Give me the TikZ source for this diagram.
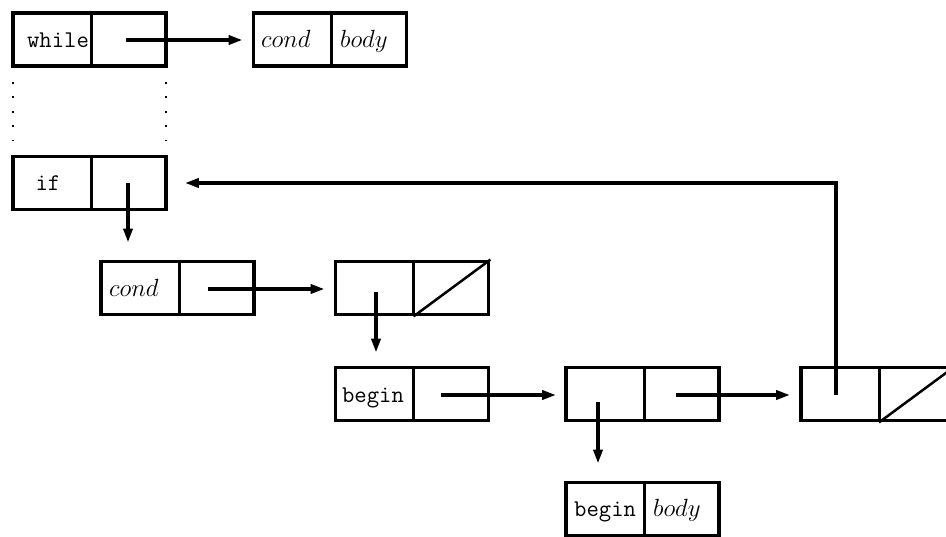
\documentclass[tikz,border=0pt]{standalone}
\usetikzlibrary{arrows.meta}
\begin{document}
\begin{tikzpicture}[x=1pt,y=-1pt,
  cell/.style={draw, line width=3.8pt, minimum width=153pt, minimum height=53pt, inner sep=0pt},
  divider/.style={line width=3pt},
  nil/.style={line width=2.5pt},
  ptr/.style={line width=3.5pt, -{Triangle[length=14pt,width=9pt]}},
  lbl/.style={inner sep=0pt, font=\fontsize{24}{28}\selectfont},
  ttl/.style={inner sep=0pt, font=\fontsize{24}{28}\selectfont\ttfamily},
  dotline/.style={line width=2pt, dash pattern=on 2pt off 12.5pt}
]
\clip (0,0) rectangle (946,536);

% cons cells
\node[cell] (w)   at (89.5,39.5) {};
\node[cell] (cb)  at (330,39.5)  {};
\node[cell] (iff) at (89.5,183)  {};
\node[cell] (cd)  at (177.5,288) {};
\node[cell] (n2)  at (412,288)   {};
\node[cell] (bg)  at (412,394)   {};
\node[cell] (n4)  at (642.5,394) {};
\node[cell] (n5)  at (877.5,394) {};
\node[cell] (bb)  at (642.5,509) {};

% car/cdr dividers
\foreach \c in {w,cb,iff,cd,n2,bg,n4,n5,bb}
  \draw[divider] ([xshift=1.5pt]\c.north) -- ([xshift=1.5pt]\c.south);

% nil cdr fields
\draw[nil] ([xshift=1.5pt]n2.south) -- (n2.north east);
\draw[nil] ([xshift=1.5pt]n5.south) -- (n5.north east);

% labels
\node[ttl, anchor=base] (tw) at (58,47) {while};
\node[lbl, anchor=base west] (tc1) at (261,47) {$cond$};
\node[lbl, anchor=base west] (tb1) at (340,47) {$body$};
\node[ttl, anchor=base] (ti) at (48,190) {if};
\node[lbl, anchor=base west] (tc2) at (109,296) {$cond$};
\node[ttl, anchor=base] (tg1) at (373,402) {begin};
\node[ttl, anchor=base west] (tg2) at (574,516) {begin};
\node[lbl, anchor=base west] (tb2) at (653,516) {$body$};

% elided part of the list
\draw[dotline] ([xshift=2pt,yshift=-14pt]w.south west) -- ([xshift=2pt,yshift=14pt]iff.north west);
\draw[dotline] ([xshift=-2pt,yshift=-14pt]w.south east) -- ([xshift=-2pt,yshift=14pt]iff.north east);

% pointer origins
\coordinate (wp)  at (126,40);
\coordinate (ip)  at (128,183);
\coordinate (cp)  at (208,289);
\coordinate (n2p) at (376,292);
\coordinate (bgp) at (441,395);
\coordinate (n4a) at (598,402);
\coordinate (n4d) at (676,395);
\coordinate (n5p) at (836,395);

% pointers
\draw[ptr, shorten >=9pt]  (wp)  -- (wp -| cb.west);
\draw[ptr, shorten >=17pt] (ip)  -- (ip |- cd.north);
\draw[ptr, shorten >=9pt]  (cp)  -- (cp -| n2.west);
\draw[ptr, shorten >=13pt] (n2p) -- (n2p |- bg.north);
\draw[ptr, shorten >=8pt]  (bgp) -- (bgp -| n4.west);
\draw[ptr, shorten >=17pt] (n4a) -- (n4a |- bb.north);
\draw[ptr, shorten >=9pt]  (n4d) -- (n4d -| n5.west);
\draw[ptr, line width=4pt, shorten >=17pt] (n5p) |- (iff.east);
\end{tikzpicture}
\end{document}
